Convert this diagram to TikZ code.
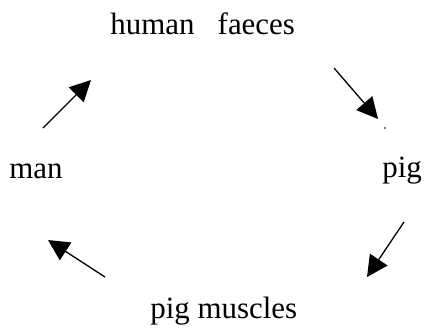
\documentclass[tikz,border=0pt]{standalone}
\usepackage{fontspec}
\setmainfont{Liberation Serif}
\usetikzlibrary{arrows.meta,positioning}

\tikzset{
  label text/.style = {inner sep=0pt, anchor=base west, font=\fontsize{17.6}{21}\selectfont},
  cycle arrow/.style = {line width=0.026cm, -{Triangle[length=0.42cm,width=0.42cm]}}
}

\begin{document}
\begin{tikzpicture}[x = 0.02cm, y = -0.02cm]
\useasboundingbox (0,0) rectangle (425,331);
% labels of the cycle
\node[label text] (faeces) at (110,35) {human~~~faeces};
\node[label text] (pig) at (382,177) {pig};
\node[label text] (muscles) at (150,318) {pig muscles};
\node[label text] (man) at (9,178) {man};
% arrow ends
\coordinate (A1) at (43,128);
\coordinate (A2) at (91,80);
\coordinate (B1) at (334,68);
\coordinate (B2) at (378,119);
\coordinate (C1) at (404,222);
\coordinate (C2) at (367,277);
\coordinate (D1) at (105,277);
\coordinate (D2) at (48,240);
\coordinate (dot) at (385,128);
\draw[cycle arrow] (A1) -- (A2);
\draw[cycle arrow] (B1) -- (B2);
\draw[cycle arrow] (C1) -- (C2);
\draw[cycle arrow] (D1) -- (D2);
\fill (dot) circle (0.8);
\end{tikzpicture}
\end{document}
